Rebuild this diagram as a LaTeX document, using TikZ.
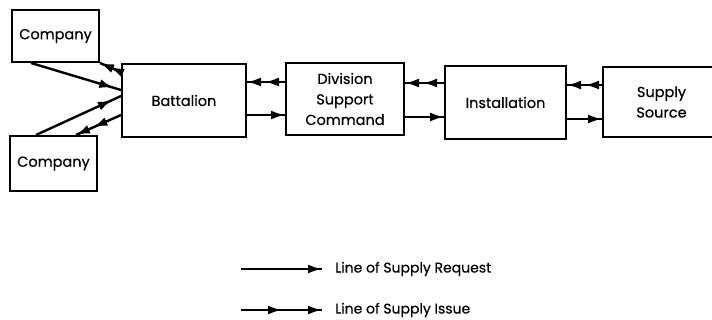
\documentclass[tikz,border=0pt]{standalone}
\usepackage{fontspec}
\setmainfont{Poppins}[FakeBold=0.4]
\usetikzlibrary{arrows.meta,decorations.markings}
\tikzset{
  lw/.style={line width=2.4pt},
  box/.style={draw, line width=2pt, align=center, inner sep=0pt, font=\fontsize{14.5}{20.5}\selectfont},
  request/.style={lw, postaction=decorate, decoration={markings,
     mark=at position #1 with {\arrow{Latex[length=14pt,width=9pt]}}}},
  request/.default=1,
  issue/.style={lw, postaction=decorate, decoration={markings,
     mark=at position -#1 with {\arrow{Latex[length=14pt,width=9pt]}},
     mark=at position 1 with {\arrow{Latex[length=14pt,width=9pt]}}}},
  issue/.default=18pt,
  legtext/.style={anchor=west, inner sep=0pt, font=\fontsize{14}{16}\selectfont}
}
\begin{document}
\begin{tikzpicture}[x=1pt,y=-1pt]
\useasboundingbox (0,0) rectangle (712,320);
\node[box, minimum width=87pt, minimum height=52pt] (c1) at (55.5,36) {Company};
\node[box, minimum width=87pt, minimum height=55pt] (c2) at (53.5,163.5) {Company};
\node[box, minimum width=124pt, minimum height=73pt] (batt) at (184,100.5) {Battalion};
\node[box, minimum width=118pt, minimum height=72pt] (dsc) at (345,99) {Division\\Support\\Command};
\node[box, minimum width=121pt, minimum height=73pt] (inst) at (505.5,102.5) {Installation};
\node[box, minimum width=117pt, minimum height=70pt, text width=117pt] (ss) at (661.5,102) {Supply\\Source};
% anchor points
\coordinate (p1) at ([yshift=17pt]dsc.west);
\coordinate (p2) at ([yshift=19.5pt]inst.west);
\coordinate (p3) at ([yshift=17pt]ss.west);
\coordinate (q1) at ([yshift=-14.5pt]batt.east);
\coordinate (q2) at ([yshift=-18pt]dsc.east);
\coordinate (q3) at ([yshift=-16.5pt]inst.east);
% issue (leftward, top)
\draw[issue] (p1) -- (batt.east |- p1);
\draw[issue] (p2) -- (dsc.east |- p2);
\draw[issue] (p3) -- (inst.east |- p3);
% request (rightward, bottom)
\draw[request] (q1) -- (dsc.west |- q1);
\draw[request] (q2) -- (inst.west |- q2);
\draw[request] (q3) -- (ss.west |- q3);
% companies
\draw[request=-8pt] ([xshift=20pt]c1.south west) -- ([yshift=10.5pt]batt.west);
\draw[issue=11pt] ([yshift=28.5pt]batt.west) -- (c1.south east);
\draw[request=-10pt] ([xshift=27pt]c2.north west) -- ([yshift=4.5pt]batt.west);
\draw[issue=19pt] ([yshift=-14.5pt]batt.west) -- ([xshift=67pt]c2.north west);
% legend
\coordinate (l1) at (241,269);
\coordinate (l2) at (241,310);
\node[legtext] (t1) at (335,269) {Line of Supply Request};
\node[legtext] (t2) at (335,310) {Line of Supply Issue};
\draw[request] (l1) -- ([xshift=-13pt]t1.west);
\draw[issue=40pt] (l2) -- ([xshift=-13pt]t2.west);
\end{tikzpicture}
\end{document}
